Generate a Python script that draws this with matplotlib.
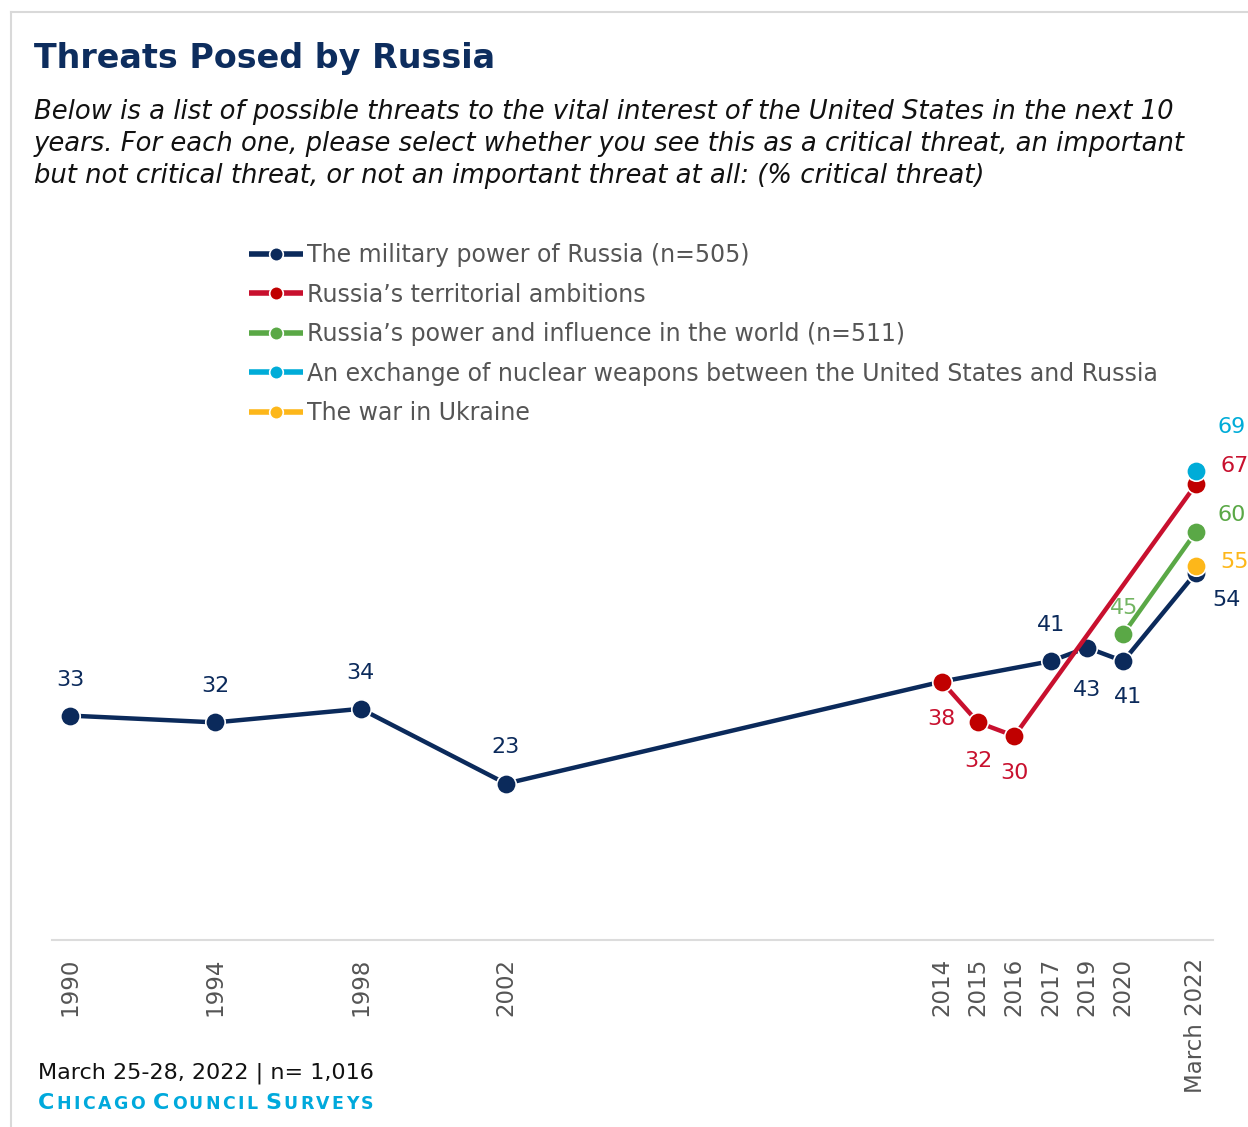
import numpy as np
import matplotlib
matplotlib.use("Agg")
import matplotlib.pyplot as plt
from matplotlib.lines import Line2D

plt.rcParams["font.family"] = ["DejaVu Sans"]

W, H = 1248, 1127
nan = np.nan

periods = ["1990", "1994", "1998", "2002", "2014", "2015", "2016",
           "2017", "2019", "2020", "March 2022"]
slots = [0, 4, 8, 12, 24, 25, 26, 27, 28, 29, 31]

military = [33, 32, 34, 23, 38, nan, nan, 41, 43, 41, 54]
territorial = [nan, nan, nan, nan, 38, 32, 30, nan, nan, nan, 67]
influence = [nan] * 9 + [45, 60]
nuclear = [nan] * 10 + [69]
ukraine = [nan] * 10 + [55]

series = [
    ("The military power of Russia (n=505)", military, "#0b2a5b", "#0b2a5b", "#0b2a5b"),
    ("Russia\u2019s territorial ambitions", territorial, "#c8102e", "#c00000", "#c8102e"),
    ("Russia\u2019s power and influence in the world (n=511)", influence, "#5aa846", "#5aa846", "#5aa846"),
    ("An exchange of nuclear weapons between the United States and Russia", nuclear, "#00acd8", "#00acd8", "#00acd8"),
    ("The war in Ukraine", ukraine, "#fdb71a", "#fdb71a", "#fdb71a"),
]

# label offsets in pixels, keyed by point index
label_offsets = [
    {0: (0, 36), 1: (0, 36), 2: (0, 36), 3: (0, 37), 7: (0, 36), 8: (0, -42), 9: (5, -36), 10: (31, -27)},
    {4: (0, -37), 5: (0, -39), 6: (0, -37), 10: (39, 18)},
    {9: (1, 26), 10: (36, 17)},
    {10: (36, 44)},
    {10: (39, 4)},
]


def fx(x):
    return x / W


def fy(y):
    return 1 - y / H


fig = plt.figure(figsize=(W / 100, H / 100), dpi=100)
ax = fig.add_axes([fx(52), fy(940), (1213 - 52) / W, (940 - 260) / H])

handles = []
for i, (name, vals, lc, mc, tc) in enumerate(series):
    x = np.array(slots, dtype=float)
    y = np.array(vals, dtype=float)
    ok = ~np.isnan(y)
    ln, = ax.plot(x[ok], y[ok], color=lc, lw=3.2, marker="o", ms=14,
                  mfc=mc, mec="white", mew=1.2, zorder=3 + i, label=name,
                  solid_capstyle="butt", clip_on=False)
    handles.append(ln)
    for k, (dx, dy) in label_offsets[i].items():
        ax.annotate(f"{vals[k]:.0f}", (slots[k], vals[k]), xytext=(dx, dy),
                    textcoords="offset pixels", ha="center", va="center",
                    fontsize=16, color=tc, zorder=10, annotation_clip=False,
                    alpha=0.85 if i == 2 and k == 9 else 1)

ax.set_xlim(-0.5, 31.47)
ax.set_ylim(0, 100)
ax.set_yticks([])
ax.set_xticks(slots, periods, rotation=90, fontsize=16.5, color="#555555")
ax.tick_params(axis="x", length=0, pad=13)
for s in ["top", "left", "right"]:
    ax.spines[s].set_visible(False)
ax.spines["bottom"].set_color("#dcdcdc")
ax.spines["bottom"].set_linewidth(1.5)

leg = fig.legend(handles=handles, loc="upper left",
                 bbox_to_anchor=(fx(249), fy(243)), frameon=False,
                 fontsize=17, labelcolor="#555555", markerscale=0.7,
                 handlelength=2.3, handletextpad=0.15, labelspacing=0.66,
                 borderpad=0, borderaxespad=0)
for h in leg.legend_handles:
    h.set_linewidth(4)

# frame
fig.add_artist(Line2D([fx(11), fx(11)], [fy(12), 0], color="#d9d9d9", lw=1.5))
fig.add_artist(Line2D([fx(11), 1], [fy(12), fy(12)], color="#d9d9d9", lw=1.5))

fig.text(fx(34), fy(68), "Threats Posed by Russia", fontsize=24,
         fontweight="bold", color="#0d2d5e", va="baseline")
subtitle = [
    "Below is a list of possible threats to the vital interest of the United States in the next 10",
    "years. For each one, please select whether you see this as a critical threat, an important",
    "but not critical threat, or not an important threat at all: (% critical threat)",
]
for j, line in enumerate(subtitle):
    fig.text(fx(34), fy(119 + 32 * j), line, fontsize=18.6, style="italic",
             color="#111111", va="baseline")

fig.text(fx(38), fy(1078), "March 25-28, 2022 | n= 1,016", fontsize=16,
         color="#111111", va="baseline")

# small caps footer, placed letter by letter
cyan = "#00a9dc"
renderer = fig.canvas.get_renderer()
xpos = 38
for word in ["Chicago", "Council", "Surveys"]:
    for n, ch in enumerate(word):
        size = 16 if n == 0 else 12.5
        t = fig.text(fx(xpos), fy(1109), ch.upper(), fontsize=size, color=cyan,
                     va="baseline", fontweight="bold")
        xpos = t.get_window_extent(renderer).x1 + 2.3
    xpos += 6

fig.savefig("out.png", dpi=100)
